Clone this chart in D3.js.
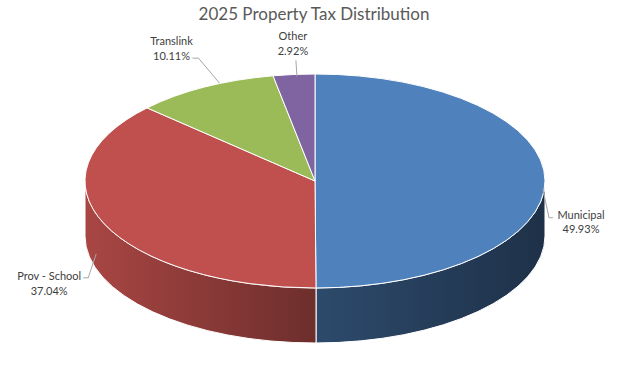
<!DOCTYPE html>
<html lang="en">
<head>
<meta charset="UTF-8" />
<title>2025 Property Tax Distribution</title>
<script src="https://d3js.org/d3.v7.min.js"></script>
<style>
  body { margin: 0; background: #fff; }
  svg { display: block; }
  .title { font-family: Lato, sans-serif; font-size: 17px; fill: #595959; text-anchor: middle; }
  .lbl { font-family: Lato, sans-serif; font-size: 11px; fill: #404040; text-anchor: middle; }
  .leader { fill: none; stroke: #a6a6a6; stroke-width: 1; }
</style>
</head>
<body>
<svg id="chart" width="640" height="373"></svg>
<script>
// data
const categories = ["Municipal", "Prov - School", "Translink", "Other"];
const shares = [49.93, 37.04, 10.11, 2.92];
const sliceColors = ["#4f81bd", "#c0504d", "#9bbb59", "#8064a2"];

// geometry of the tilted pie
const W = 640, H = 373;
const cx = 315, cy = 181, rx = 230, ry = 107, depth = 55;

// label placement (offsets from the slice edge point at its mid angle)
const labelLayout = {
  "Municipal":     { anchor: [-2, 9],  path: [[6, 28], [10, 28]],   text: [36, 34] },
  "Prov - School": { anchor: [-8, 30], path: [[-8, 24], [-13, 24]], text: [-55, 52] },
  "Translink":     { anchor: [15, -4], path: [[-21, -25], [-27, -25]], text: [-33, -46] },
  "Other":         { anchor: [3, 2],   path: [[-1, -16]],            text: [-1, -38] }
};

const svg = d3.select("#chart");
const defs = svg.append("defs");
const g = svg.append("g");

const pie = d3.pie().sort(null).value(d => d)
  .startAngle(0).endAngle(2 * Math.PI);
const arcs = pie(shares).map((a, i) => ({ ...a, name: categories[i], color: sliceColors[i], i }));

const pt = (a, dy = 0) => [cx + rx * Math.sin(a), cy - ry * Math.cos(a) + dy];

function topPath(a0, a1) {
  const p0 = pt(a0), p1 = pt(a1);
  const large = a1 - a0 > Math.PI ? 1 : 0;
  return `M${cx},${cy}L${p0[0]},${p0[1]}A${rx},${ry} 0 ${large} 1 ${p1[0]},${p1[1]}Z`;
}

function sidePath(a0, a1) {
  const b0 = Math.max(a0, Math.PI / 2), b1 = Math.min(a1, 3 * Math.PI / 2);
  if (b1 <= b0) return null;
  const t0 = pt(b0), t1 = pt(b1), d1 = pt(b1, depth), d0 = pt(b0, depth);
  return `M${t0[0]},${t0[1]}A${rx},${ry} 0 0 1 ${t1[0]},${t1[1]}` +
         `L${d1[0]},${d1[1]}A${rx},${ry} 0 0 0 ${d0[0]},${d0[1]}Z`;
}

// side shading: lighter on the left, darker toward the right
const shade = [[0, 0.88], [0.5, 0.57], [1, 0.38]];
arcs.forEach(d => {
  const c = d3.rgb(d.color);
  const gr = defs.append("linearGradient")
    .attr("id", "side-" + d.i)
    .attr("gradientUnits", "userSpaceOnUse")
    .attr("x1", cx - rx).attr("x2", cx + rx).attr("y1", 0).attr("y2", 0);
  shade.forEach(([o, f]) => {
    gr.append("stop").attr("offset", o)
      .attr("stop-color", d3.rgb(c.r * f, c.g * f, c.b * f).formatHex());
  });
});

// side walls
g.append("g").selectAll("path")
  .data(arcs.filter(d => sidePath(d.startAngle, d.endAngle)))
  .join("path")
  .attr("d", d => sidePath(d.startAngle, d.endAngle))
  .attr("fill", d => `url(#side-${d.i})`)
  .attr("stroke", "#ffffff")
  .attr("stroke-width", 1)
  .attr("stroke-linejoin", "round");

// top faces
g.append("g").selectAll("path")
  .data(arcs)
  .join("path")
  .attr("d", d => topPath(d.startAngle, d.endAngle))
  .attr("fill", d => d.color)
  .attr("stroke", "#ffffff")
  .attr("stroke-width", 1)
  .attr("stroke-linejoin", "round");

// labels
const lg = g.append("g");
arcs.forEach(d => {
  const mid = (d.startAngle + d.endAngle) / 2;
  const e = pt(mid);
  const L = labelLayout[d.name];
  const a = [e[0] + L.anchor[0], e[1] + L.anchor[1]];
  const pts = [a].concat(L.path.map(p => [a[0] + p[0], a[1] + p[1]]));
  lg.append("path").attr("class", "leader").attr("d", d3.line()(pts));
  const tx = e[0] + L.text[0], ty = e[1] + L.text[1];
  const t = lg.append("text").attr("class", "lbl").attr("x", tx).attr("y", ty);
  t.append("tspan").attr("x", tx).attr("dy", "0.35em").text(d.name);
  t.append("tspan").attr("x", tx).attr("dy", "1.35em").text(d3.format(".2f")(d.data) + "%");
});

svg.append("text").attr("class", "title")
  .attr("x", W / 2 - 6).attr("y", 20)
  .text("2025 Property Tax Distribution");
</script>
</body>
</html>
